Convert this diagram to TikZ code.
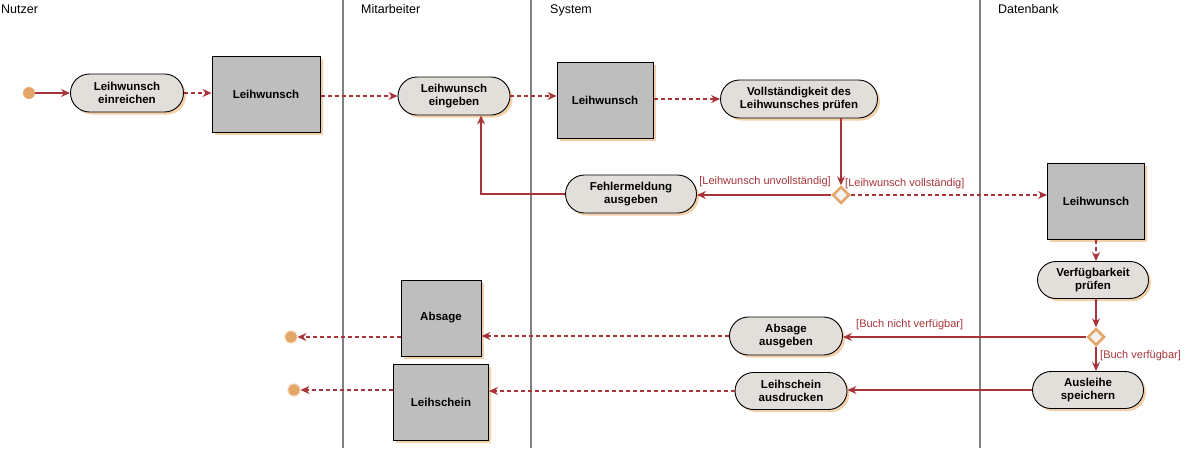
\documentclass[tikz,border=0pt]{standalone}
\usepackage{fontspec}
\setmainfont{Liberation Sans}
\usetikzlibrary{shapes.misc,shapes.geometric,arrows.meta,shadows}
\definecolor{lane}{RGB}{128,128,128}
\definecolor{arr}{RGB}{168,52,58}
\definecolor{actfill}{RGB}{226,223,219}
\definecolor{objfill}{RGB}{190,190,190}
\definecolor{shad}{RGB}{244,208,170}
\definecolor{orng}{RGB}{228,166,104}
\definecolor{dfill}{RGB}{242,242,242}
\tikzset{
 act/.style={rounded rectangle, draw=black, line width=0.9pt, fill=actfill, minimum height=38pt, inner sep=2pt, align=center,
   font=\bfseries\fontsize{11.5}{13}\selectfont,
   drop shadow={shadow xshift=2.5pt,shadow yshift=-2.5pt,fill=shad,opacity=1}},
 obj/.style={rectangle, draw=black, line width=1pt, fill=objfill, minimum height=76pt, inner sep=2pt,
   font=\bfseries\fontsize{11.5}{13}\selectfont,
   drop shadow={shadow xshift=2.5pt,shadow yshift=-2.5pt,fill=shad,opacity=1}},
 dec/.style={diamond, draw=orng, line width=2.5pt, fill=dfill, minimum width=17pt, minimum height=17pt, inner sep=0pt},
 flow/.style={draw=arr, line width=1.2pt, -{Stealth[length=9pt,width=8pt,inset=3pt]}},
 oflow/.style={flow, dash pattern=on 4pt off 3pt},
 guard/.style={text=arr, font=\fontsize{11}{13}\selectfont, inner sep=0pt},
 lanehead/.style={font=\fontsize{12.5}{14}\selectfont, anchor=base west, inner sep=0pt},
 lanesep/.style={draw=lane, line width=1.5pt},
 startst/.style={circle, fill=orng, minimum size=12pt, inner sep=0pt},
 endst/.style={circle, draw=shad, line width=1pt, fill=orng, minimum size=12pt, inner sep=0pt}
}
\begin{document}
\begin{tikzpicture}[x=1pt,y=-1pt]
\useasboundingbox (0,0) rectangle (1191,448);
% swimlanes
\draw[lanesep] (343,0) -- (343,448);
\draw[lanesep] (531,0) -- (531,448);
\draw[lanesep] (980,0) -- (980,448);
\node[lanehead] (hN) at (1,13.5) {Nutzer};
\node[lanehead] (hM) at (361,13.5) {Mitarbeiter};
\node[lanehead] (hS) at (550,13.5) {System};
\node[lanehead] (hD) at (998,13.5) {Datenbank};
% nodes
\node[startst] (start) at (29,93) {};
\node[act, minimum width=117pt] (einr) at (127,93) {Leihwunsch\\einreichen};
\node[obj, minimum width=108pt] (o1) at (266,94) {Leihwunsch};
\node[act, minimum width=116pt] (eing) at (454,96) {Leihwunsch\\eingeben};
\node[obj, minimum width=96pt] (o2) at (605,100) {Leihwunsch};
\node[act, minimum width=161pt] (voll) at (799,99) {Vollständigkeit des\\Leihwunsches prüfen};
\node[dec] (d1) at (841,195) {};
\node[act, minimum width=135pt] (fehl) at (631,194) {Fehlermeldung\\ausgeben};
\node[obj, minimum width=97pt] (o3) at (1096,201) {Leihwunsch};
\node[act, minimum width=115pt, minimum height=37pt] (verf) at (1093,280) {Verfügbarkeit\\prüfen};
\node[dec] (d2) at (1096,337) {};
\node[act, minimum width=115pt, minimum height=37pt] (ausl) at (1088,390) {Ausleihe\\speichern};
\node[act, minimum width=117pt] (absa) at (786,336) {Absage\\ausgeben};
\node[act, minimum width=116pt, minimum height=37pt] (ldru) at (791,391) {Leihschein\\ausdrucken};
\node[obj, minimum width=80pt] (o4) at (441,318) {Absage};
\node[obj, minimum width=95pt] (o5) at (441,402) {Leihschein};
\node[endst] (e1) at (291,337) {};
\node[endst] (e2) at (294,390) {};
% connectors
\draw[flow] (start) -- (einr);
\draw[oflow] (einr.east) -- (einr.east -| o1.west);
\draw[oflow] (o1.east |- eing) -- (eing.west);
\draw[oflow] (eing.east) -- (eing.east -| o2.west);
\draw[oflow] (o2.east |- voll) -- (voll.west);
\draw[flow] (voll.south -| d1.north) -- (d1.north);
\draw[flow] (d1.west) -- (d1.west -| fehl.east);
\draw[flow] (fehl.west) -| ([xshift=27pt]eing.south);
\draw[oflow] (d1.east) -- (d1.east -| o3.west);
\node[guard, anchor=east] (g1) at (831,182) {[Leihwunsch unvollständig]};
\node[guard, anchor=west] (g2) at (845,184) {[Leihwunsch vollständig]};
\draw[oflow] (o3.south) -- (o3.south |- verf.north);
\draw[flow] (verf.south -| d2.north) -- (d2.north);
\draw[flow] (d2.west) -- (d2.west -| absa.east);
\draw[flow] (d2.south) -- (d2.south |- ausl.north);
\node[guard, anchor=west] (g3) at (856,325) {[Buch nicht verfügbar]};
\node[guard, anchor=west] (g4) at (1100,356) {[Buch verfügbar]};
\draw[flow] (ausl.west) -- (ausl.west -| ldru.east);
\draw[oflow] (absa.west) -- (absa.west -| o4.east);
\draw[oflow] (ldru.west) -- (ldru.west -| o5.east);
\draw[oflow] (o4.west |- e1) -- (e1);
\draw[oflow] (o5.west |- e2) -- (e2);
\end{tikzpicture}
\end{document}
